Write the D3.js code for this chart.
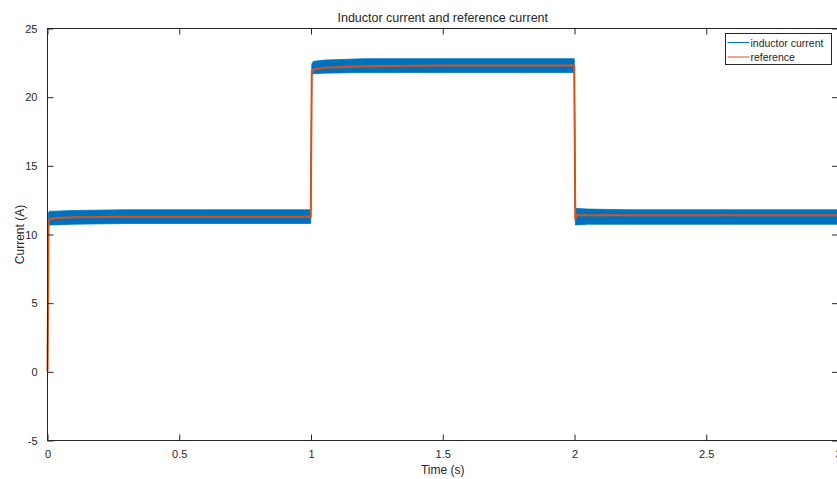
<!DOCTYPE html>
<head>
	<meta charset="utf-8">
	<title>Inductor current and reference current</title>
	<script src="https://cdn.jsdelivr.net/npm/d3@7"></script>
	<style>
		body { margin: 0; background: #fff; }
		text { font-family: "Liberation Sans", Arial, sans-serif; fill: #262626; }
	</style>
</head>

<body>
	<div id="chart"></div>

  <script>
	// values (envelope of the switching ripple + reference)
	var time  = [0, 0.004, 0.008, 0.03, 0.1, 0.3, 0.6, 0.999, 1.003, 1.008, 1.05, 1.2, 1.5, 1.8, 1.999, 2.003, 2.008, 2.05, 2.2, 2.6, 3.0];
	var iHigh = [0, 11.6, 11.7, 11.7, 11.75, 11.8, 11.8, 11.8, 22.4, 22.6, 22.7, 22.8, 22.8, 22.8, 22.8, 12.0, 11.9, 11.85, 11.8, 11.8, 11.8];
	var iLow  = [-0.5, 10.6, 10.7, 10.7, 10.75, 10.8, 10.8, 10.8, 21.6, 21.7, 21.75, 21.8, 21.8, 21.8, 21.8, 10.7, 10.7, 10.75, 10.75, 10.75, 10.75];
	var iRef  = [0, 10.9, 11.1, 11.2, 11.25, 11.3, 11.3, 11.3, 21.9, 22.0, 22.15, 22.25, 22.3, 22.3, 22.3, 11.1, 11.4, 11.4, 11.4, 11.4, 11.4];
	var xTicks = [0, 0.5, 1, 1.5, 2, 2.5, 3];
	var yTicks = [-5, 0, 5, 10, 15, 20, 25];
	var seriesNames = ["inductor current", "reference"];

	var width = 837, height = 479;
	// plot box edges (note: "top" is reserved on window, so prefixed names)
	var pLeft = 47.5, pRight = 838, pTop = 28.5, pBottom = 440.5;
	var blue = "#0072BD", orange = "#D95319", axisCol = "#262626";

	var svg = d3.select("#chart").append("svg")
		.attr("width", width)
		.attr("height", height);

	var x = d3.scaleLinear().domain([0, 3]).range([pLeft, pRight]);
	var y = d3.scaleLinear().domain([-5, 25]).range([pBottom, pTop]);

	var pts = time.map(function (t, i) {
		return {t: t, hi: iHigh[i], lo: iLow[i], ref: iRef[i]};
	});

	// ripple band of the inductor current
	svg.append("path")
		.datum(pts)
		.attr("fill", blue)
		.attr("stroke", blue)
		.attr("stroke-width", 0.8)
		.attr("d", d3.area()
			.x(function (d) { return x(d.t); })
			.y0(function (d) { return y(d.lo); })
			.y1(function (d) { return y(d.hi); }));

	// reference
	svg.append("path")
		.datum(pts)
		.attr("fill", "none")
		.attr("stroke", orange)
		.attr("stroke-width", 2)
		.attr("d", d3.line()
			.x(function (d) { return x(d.t); })
			.y(function (d) { return y(d.ref); }));

	// axes (MATLAB box with inward ticks)
	function noDomain(g) { g.select(".domain").remove(); }
	function plain(d) { return String(d); }   // keeps "-5" with a hyphen like MATLAB

	svg.append("g")
		.attr("transform", "translate(0," + pBottom + ")")
		.call(d3.axisBottom(x).tickValues(xTicks).tickSize(-6).tickPadding(10).tickFormat(plain))
		.call(noDomain);
	svg.append("g")
		.attr("transform", "translate(0," + pTop + ")")
		.call(d3.axisTop(x).tickValues(xTicks).tickSize(-6).tickFormat(""))
		.call(noDomain);
	svg.append("g")
		.attr("transform", "translate(" + pLeft + ",0)")
		.call(d3.axisLeft(y).tickValues(yTicks).tickSize(-6).tickPadding(10).tickFormat(plain))
		.call(noDomain);
	svg.append("g")
		.attr("transform", "translate(" + pRight + ",0)")
		.call(d3.axisRight(y).tickValues(yTicks).tickSize(-6).tickFormat(""))
		.call(noDomain);

	svg.selectAll(".tick line").attr("stroke", axisCol);
	svg.selectAll(".tick text")
		.attr("font-family", "Liberation Sans, Arial, sans-serif")
		.attr("font-size", 11)
		.attr("fill", axisCol);

	svg.append("rect")
		.attr("x", pLeft).attr("y", pTop)
		.attr("width", pRight - pLeft).attr("height", pBottom - pTop)
		.attr("fill", "none")
		.attr("stroke", axisCol)
		.attr("stroke-width", 1);

	// titles
	svg.append("text")
		.attr("x", (pLeft + pRight) / 2).attr("y", 21.5)
		.attr("text-anchor", "middle")
		.attr("font-size", 12.5)
		.text("Inductor current and reference current");
	svg.append("text")
		.attr("x", (pLeft + pRight) / 2).attr("y", 474)
		.attr("text-anchor", "middle")
		.attr("font-size", 12)
		.text("Time (s)");
	svg.append("text")
		.attr("transform", "translate(24," + (pTop + pBottom) / 2 + ") rotate(-90)")
		.attr("text-anchor", "middle")
		.attr("font-size", 12)
		.text("Current (A)");

	// legend
	var legend = svg.append("g").attr("transform", "translate(725.5,33.5)");
	legend.append("rect")
		.attr("width", 106).attr("height", 31)
		.attr("fill", "#fff")
		.attr("stroke", axisCol);
	var item = legend.selectAll("g.item").data(seriesNames).enter().append("g")
		.attr("class", "item")
		.attr("transform", function (d, i) { return "translate(0," + (9 + i * 14.5) + ")"; });
	item.append("line")
		.attr("x1", 2).attr("x2", 24)
		.attr("stroke", function (d, i) { return i === 0 ? blue : orange; })
		.attr("stroke-width", 1);
	item.append("text")
		.attr("x", 25).attr("y", 4)
		.attr("font-size", 10.5)
		.text(function (d) { return d; });
	</script>
</body>
</html>
